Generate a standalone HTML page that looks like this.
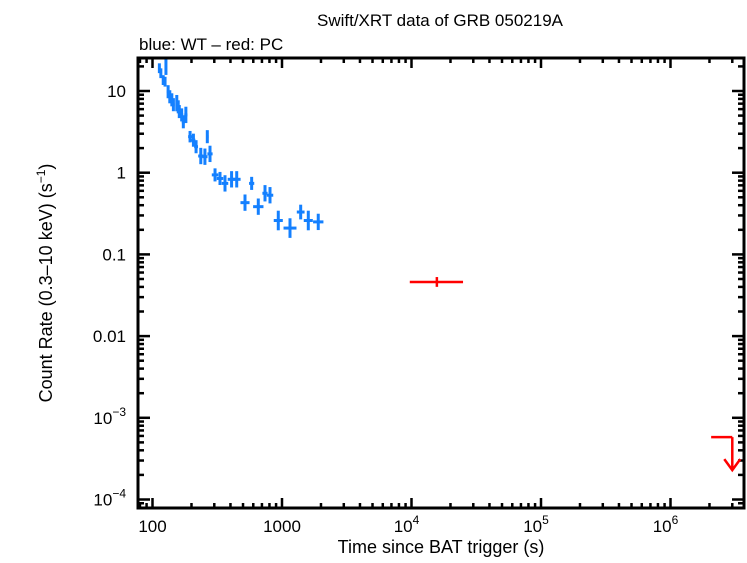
<!DOCTYPE html>
<html><head><meta charset="utf-8"><style>
body{margin:0;background:#fff;}
svg text{font-family:"Liberation Sans",Helvetica,sans-serif;fill:#000;}
</style></head><body>
<svg id="chart" width="747" height="558" xmlns="http://www.w3.org/2000/svg">
<text x="440" y="26" font-size="17" text-anchor="middle">Swift/XRT data of GRB 050219A</text>
<text x="139" y="50" font-size="17">blue: WT – red: PC</text>
<text x="441" y="553" font-size="18" text-anchor="middle">Time since BAT trigger (s)</text>
<text transform="translate(52,283) rotate(-90)" font-size="18" text-anchor="middle">Count Rate (0.3–10 keV) (s<tspan font-size="12" dy="-7">−1</tspan><tspan dy="7">)</tspan></text>
<g id="axes"></g>
<g id="marks"></g>
<rect x="138" y="58" width="606" height="450" fill="none" stroke="#000" stroke-width="3"/>
</svg>
<script>
const wtTime=[113,116,121,127,125,132,136,141,145,154,158,161,168,173,181,195,207,217,236,254,265,278,304,332,363,408,447,518,583,656,739,808,936,1153,1394,1596,1905];
const wtRate=[19,16.5,13.6,19.8,13,9.8,8.5,7.8,6.8,7.1,6.4,5.6,5.1,4.2,5.1,2.76,2.5,2.08,1.6,1.57,2.76,1.7,0.94,0.85,0.74,0.83,0.83,0.43,0.74,0.384,0.56,0.53,0.26,0.21,0.33,0.26,0.25];
const wtTimeErrDex=[0.008,0.008,0.008,0.006,0.008,0.01,0.01,0.01,0.01,0.01,0.01,0.01,0.012,0.012,0.012,0.015,0.015,0.015,0.02,0.02,0.01,0.02,0.025,0.025,0.025,0.03,0.03,0.035,0.02,0.04,0.02,0.025,0.035,0.05,0.03,0.035,0.04];
const wtRateErrDex=[0.06,0.06,0.06,0.1,0.06,0.08,0.08,0.08,0.08,0.1,0.08,0.08,0.08,0.08,0.1,0.07,0.08,0.08,0.1,0.1,0.08,0.1,0.08,0.08,0.1,0.1,0.1,0.1,0.08,0.1,0.1,0.1,0.12,0.12,0.09,0.12,0.1];
const pcTime=[15700],pcTimeLo=[9700],pcTimeHi=[25000],pcRate=[0.046],pcRateErrDex=[0.06];
const ulTimeLo=[2.06e6],ulTimeHi=[3.0e6],ulRate=[5.8e-4];
const xMajor=[100,1000,1e4,1e5,1e6];
const xLabels=["100","1000","10|4","10|5","10|6"];
const yMajor=[1e-4,1e-3,0.01,0.1,1,10];
const yLabels=["10|−4","10|−3","0.01","0.1","1","10"];

const NS="http://www.w3.org/2000/svg";
const L=138,R=744,T=58,B=508;
const xs=t=>152.5+(Math.log10(t)-2)*129.5;
const ys=r=>91-(Math.log10(r)-1)*81.7;
function mk(p,tag,a){const e=document.createElementNS(NS,tag);for(const k in a)e.setAttribute(k,a[k]);p.appendChild(e);return e;}
const ax=document.getElementById('axes'),mg=document.getElementById('marks');
function tick(x1,y1,x2,y2){const e=mk(ax,'line',{x1,y1,x2,y2,stroke:'#000','stroke-width':2.5});}
function lab(parent,x,y,s,anchor,fs){const t=mk(parent,'text',{x,y,'font-size':fs,'text-anchor':anchor});
 
 const p=s.split('|');t.textContent=p[0];if(p[1]){const sp=mk(t,'tspan',{'font-size':12,dy:-8});sp.textContent=p[1];}}
// x ticks
for(let d=1;d<=6;d++)for(let m=1;m<10;m++){const t=m*Math.pow(10,d);const x=xs(t);if(x<L+1||x>R-1)continue;const len=m===1?10:5;tick(x,B,x,B-len);tick(x,T,x,T+len);}
xMajor.forEach((t,i)=>{const x=xs(t);const off=xLabels[i].includes('|')?-5:0;lab(ax,x+off,532,xLabels[i],'middle',17);});
// y ticks
for(let d=-5;d<=1;d++)for(let m=1;m<10;m++){const r=m*Math.pow(10,d);const y=ys(r);if(y<T+1||y>B-1)continue;const len=m===1?12:6;tick(L,y,L+len,y);tick(R,y,R-len,y);}
yMajor.forEach((r,i)=>lab(ax,126,ys(r)+6,yLabels[i],'end',17));
// WT
const blue='#1480ff';
wtTime.forEach((t,i)=>{const g=mk(mg,'g',{});
 const x=xs(t),y=ys(wtRate[i]);const dx=wtTimeErrDex[i]*129.5,dy=wtRateErrDex[i]*81.7;
 mk(g,'line',{x1:x-dx,y1:y,x2:x+dx,y2:y,stroke:blue,'stroke-width':3});
 mk(g,'line',{x1:x,y1:y-dy,x2:x,y2:y+dy,stroke:blue,'stroke-width':3});});
// PC
pcTime.forEach((t,i)=>{const g=mk(mg,'g',{});
 const y=ys(pcRate[i]),dy=pcRateErrDex[i]*81.7;
 mk(g,'line',{x1:xs(pcTimeLo[i]),y1:y,x2:xs(pcTimeHi[i]),y2:y,stroke:'#f00','stroke-width':2.5});
 mk(g,'line',{x1:xs(t),y1:y-dy,x2:xs(t),y2:y+dy,stroke:'#f00','stroke-width':2.5});});
// upper limit
ulRate.forEach((r,i)=>{const g=mk(mg,'g',{});
 const y=ys(r),x1=xs(ulTimeLo[i]),x2=xs(ulTimeHi[i]);
 mk(g,'line',{x1,y1:y,x2,y2:y,stroke:'#f00','stroke-width':2.5});
 mk(g,'line',{x1:x2,y1:y,x2:x2,y2:y+33,stroke:'#f00','stroke-width':2.5});
 mk(g,'polyline',{points:`${x2-8},${y+22} ${x2},${y+33} ${x2+8},${y+22}`,fill:'none',stroke:'#f00','stroke-width':2.5});});
</script>
</body></html>
